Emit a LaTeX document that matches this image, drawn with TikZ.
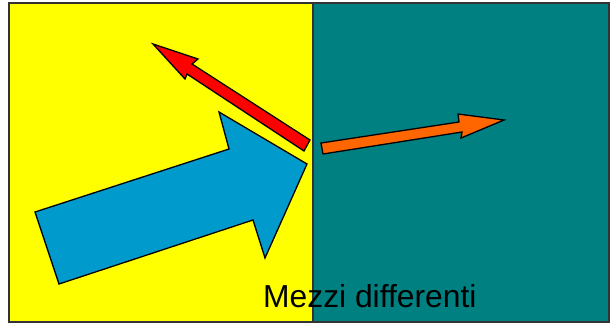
\documentclass[tikz,border=0pt]{standalone}
\usepackage{fontspec}
\setmainfont{Liberation Sans}
\definecolor{yel}{HTML}{FFFF00}
\definecolor{tealc}{HTML}{008080}
\definecolor{bluec}{HTML}{009ACD}
\definecolor{redc}{HTML}{FF0000}
\definecolor{orc}{HTML}{FF6600}
\begin{document}
\begin{tikzpicture}[x=1pt,y=-1pt,
  arrowshape/.style={draw=black, line width=1.3pt, line join=miter},
  medium/.style={draw=black!80, line width=1.4pt}]
\useasboundingbox (0,0) rectangle (610,324);
\fill[white] (0,0) rectangle (610,324);
\filldraw[medium, fill=yel] (9,3) rectangle (313,322);
\filldraw[medium, fill=tealc] (313,3) rectangle (609,322);
% blue arrow
\filldraw[arrowshape, fill=bluec] (59,284) -- (35,212) -- (229,149) -- (219,112) -- (307,164) -- (265,258) -- (253,220) -- cycle;
% red arrow
\filldraw[arrowshape, fill=redc] (153,44) -- (198,59) -- (192,64) -- (310,140) -- (304,151) -- (187,74) -- (185,79) -- cycle;
% orange arrow
\filldraw[arrowshape, fill=orc] (321,143) -- (459,122) -- (458,114) -- (504,120) -- (461,138) -- (462,132) -- (323,154) -- cycle;
\node[anchor=base west, inner sep=0pt, font=\fontsize{31.8}{32}\selectfont] (lbl) at (263,307) {Mezzi differenti};
\end{tikzpicture}
\end{document}
